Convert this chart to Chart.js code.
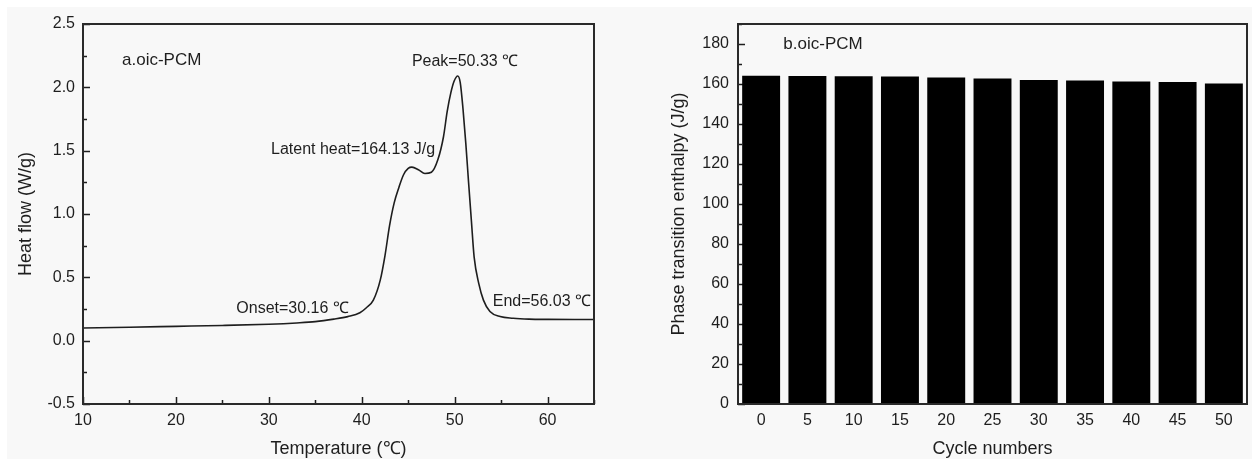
<!DOCTYPE html>
<html lang="en">
<head>
  <meta charset="UTF-8">
  <title>oic-PCM DSC and cycling</title>
  <script src="https://cdn.jsdelivr.net/npm/chart.js"></script>
  <style>
    html, body { margin: 0; padding: 0; background: #ffffff; }
    .page { position: relative; width: 1252px; height: 464px; overflow: hidden; }
    .panel { position: absolute; top: 7px; left: 7px; width: 1245px; height: 452px; background: #f8f8f8; }
    .box { position: absolute; top: 0; width: 626px; height: 464px; }
    #boxA { left: 0; }
    #boxB { left: 626px; }
  </style>
</head>
<body>
  <div class="page">
    <div class="panel"></div>
    <div class="box" id="boxA"><canvas id="dscChart"></canvas></div>
    <div class="box" id="boxB"><canvas id="cycleChart"></canvas></div>
  </div>

  <script>
    // (a) DSC curve
    const temperature = [10, 15, 20, 25, 30, 33, 35, 37, 38.5, 39.8, 40.5, 41.25, 42, 42.5, 43, 43.5, 44,
      44.5, 45, 45.4, 46.1, 46.8, 47.5, 48.2, 48.8, 49.2, 49.6, 49.95, 50.33, 50.6, 50.9, 51.2, 51.5, 51.8,
      52.1, 52.6, 53.1, 53.8, 54.9, 56.3, 58, 60, 65];
    const heatFlow = [0.10, 0.106, 0.113, 0.12, 0.13, 0.14, 0.15, 0.17, 0.19, 0.22, 0.26, 0.32, 0.48, 0.67,
      0.91, 1.09, 1.21, 1.31, 1.36, 1.37, 1.35, 1.32, 1.33, 1.43, 1.61, 1.81, 1.96, 2.05, 2.09, 2.04, 1.83,
      1.56, 1.25, 0.95, 0.66, 0.45, 0.32, 0.23, 0.19, 0.177, 0.17, 0.168, 0.167];
    const tempTicks = [10, 20, 30, 40, 50, 60];
    const flowTicks = [-0.5, 0.0, 0.5, 1.0, 1.5, 2.0, 2.5];

    // (b) enthalpy over cycles
    const cycles = ['0', '5', '10', '15', '20', '25', '30', '35', '40', '45', '50'];
    const enthalpy = [164.1, 164.0, 163.9, 163.7, 163.2, 162.7, 162.0, 161.7, 161.2, 161.0, 160.3];
    const enthalpyTicks = [0, 20, 40, 60, 80, 100, 120, 140, 160, 180];

    const FONT = "'Liberation Sans', Arial, Helvetica, sans-serif";
    const INK = '#1e1e1e';

    // minor ticks halfway between majors
    function halves(list) {
      const out = [];
      for (let i = 0; i < list.length - 1; i++) out.push((list[i] + list[i + 1]) / 2);
      return out;
    }

    // ticks pointing into the plot, the box frame and the text notes
    const framePlugin = {
      id: 'framePlugin',
      beforeDatasetsDraw(chart, args, opts) {
        const {ctx, chartArea: a} = chart;
        ctx.save();
        ctx.strokeStyle = INK;
        ctx.lineWidth = 1.5;
        (opts.marks || []).forEach(m => {
          const s = chart.scales[m.axis];
          m.values.forEach(v => {
            const p = Math.round(s.getPixelForValue(v)) + 0.5;
            ctx.beginPath();
            if (m.axis === 'x') {
              ctx.moveTo(p, a.bottom);
              ctx.lineTo(p, a.bottom - m.len);
            } else {
              ctx.moveTo(a.left, p);
              ctx.lineTo(a.left + m.len, p);
            }
            ctx.stroke();
          });
        });
        ctx.restore();
      },
      afterDatasetsDraw(chart, args, opts) {
        const {ctx, chartArea: a, scales} = chart;
        ctx.save();
        ctx.strokeStyle = '#2a2a2a';
        ctx.lineWidth = 2;
        ctx.strokeRect(a.left, a.top, a.right - a.left, a.bottom - a.top);
        ctx.fillStyle = INK;
        ctx.textBaseline = 'middle';
        (opts.notes || []).forEach(n => {
          ctx.font = n.size + 'px ' + FONT;
          ctx.textAlign = n.align || 'left';
          ctx.fillText(n.text, scales.x.getPixelForValue(n.x), scales.y.getPixelForValue(n.y));
        });
        ctx.restore();
      }
    };

    function fixedTicks(values) {
      return scale => { scale.ticks = values.map(v => ({value: v})); };
    }

    const tickFont = {family: FONT, size: 16};
    const titleFont = {family: FONT, size: 18};

    new Chart(document.getElementById('dscChart'), {
      type: 'line',
      data: {
        datasets: [{
          data: temperature.map((t, i) => ({x: t, y: heatFlow[i]})),
          borderColor: INK,
          borderWidth: 1.6,
          pointRadius: 0,
          cubicInterpolationMode: 'monotone',
          fill: false
        }]
      },
      options: {
        responsive: true,
        maintainAspectRatio: false,
        animation: false,
        devicePixelRatio: 1,
        layout: {padding: {top: 24, right: 32, left: 0, bottom: 0}},
        plugins: {
          legend: {display: false},
          tooltip: {enabled: false},
          framePlugin: {
            marks: [
              {axis: 'x', values: tempTicks, len: 7},
              {axis: 'x', values: halves(tempTicks.concat([70])), len: 4},
              {axis: 'y', values: flowTicks, len: 7},
              {axis: 'y', values: halves(flowTicks), len: 4}
            ],
            notes: [
              {text: 'a.oic-PCM', x: 14.2, y: 2.215, size: 17},
              {text: 'Peak=50.33 \u2103', x: 45.4, y: 2.2, size: 16},
              {text: 'Latent heat=164.13 J/g', x: 47.9, y: 1.505, size: 16, align: 'right'},
              {text: 'Onset=30.16 \u2103', x: 26.5, y: 0.25, size: 16},
              {text: 'End=56.03 \u2103', x: 54.1, y: 0.305, size: 16}
            ]
          }
        },
        scales: {
          x: {
            type: 'linear',
            min: 10,
            max: 65,
            afterBuildTicks: fixedTicks(tempTicks),
            afterFit(scale) { scale.height = 60; },
            grid: {display: false, drawTicks: false},
            border: {display: false},
            ticks: {color: INK, font: tickFont, padding: 7, maxRotation: 0, callback: v => String(v)},
            title: {display: true, text: 'Temperature (\u2103)', color: INK, font: titleFont, padding: {top: 0, bottom: 4}}
          },
          y: {
            min: -0.5,
            max: 2.5,
            afterBuildTicks: fixedTicks(flowTicks),
            afterFit(scale) { scale.width = 83; },
            grid: {display: false, drawTicks: false},
            border: {display: false},
            ticks: {color: INK, font: tickFont, padding: 8, callback: v => v.toFixed(1)},
            title: {display: true, text: 'Heat flow (W/g)', color: INK, font: titleFont, padding: {top: 15, bottom: 0}}
          }
        }
      },
      plugins: [framePlugin]
    });

    new Chart(document.getElementById('cycleChart'), {
      type: 'bar',
      data: {
        labels: cycles,
        datasets: [{
          data: enthalpy,
          backgroundColor: '#000000',
          borderWidth: 0,
          categoryPercentage: 1.0,
          barPercentage: 0.82
        }]
      },
      options: {
        responsive: true,
        maintainAspectRatio: false,
        animation: false,
        devicePixelRatio: 1,
        layout: {padding: {top: 24, right: 5, left: 0, bottom: 0}},
        plugins: {
          legend: {display: false},
          tooltip: {enabled: false},
          framePlugin: {
            marks: [
              {axis: 'y', values: enthalpyTicks, len: 7},
              {axis: 'y', values: halves(enthalpyTicks.concat([200])), len: 4}
            ],
            notes: [
              {text: 'b.oic-PCM', x: 0.48, y: 180, size: 17}
            ]
          }
        },
        scales: {
          x: {
            afterFit(scale) { scale.height = 60; },
            grid: {display: false, drawTicks: false},
            border: {display: false},
            ticks: {color: INK, font: tickFont, padding: 7, maxRotation: 0},
            title: {display: true, text: 'Cycle numbers', color: INK, font: titleFont, padding: {top: 0, bottom: 4}}
          },
          y: {
            min: 0,
            max: 190,
            afterBuildTicks: fixedTicks(enthalpyTicks),
            afterFit(scale) { scale.width = 112; },
            grid: {display: false, drawTicks: false},
            border: {display: false},
            ticks: {color: INK, font: tickFont, padding: 9},
            title: {display: true, text: 'Phase transition enthalpy (J/g)', color: INK, font: titleFont, padding: {top: 42, bottom: 0}}
          }
        }
      },
      plugins: [framePlugin]
    });
  </script>
</body>
</html>
